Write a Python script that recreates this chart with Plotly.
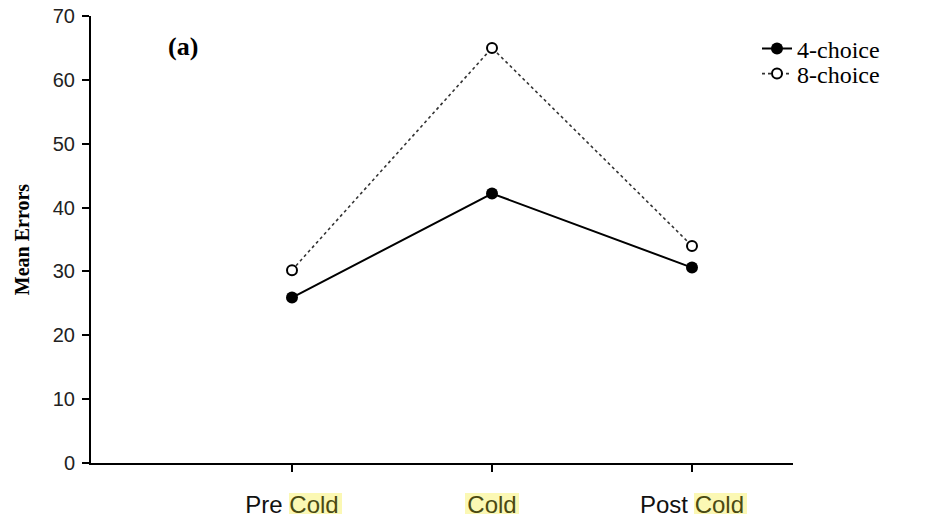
import plotly.graph_objects as go

categories = ["Pre Cold", "Cold", "Post Cold"]
four_choice = [25.9, 42.2, 30.6]
eight_choice = [30.2, 65.0, 34.0]
y_ticks = [0, 10, 20, 30, 40, 50, 60, 70]
series_names = ["4-choice", "8-choice"]
panel_label = "(a)"
y_title = "Mean Errors"

x_idx = list(range(len(categories)))
X_RANGE = [-1.005, 2.505]
HL_TEXT = "#4a4a12"


def tick_label(c):
    out = []
    for p in c.split(" "):
        if p == "Cold":
            out.append(f"<span style='color:{HL_TEXT}'>{p}</span>")
        else:
            out.append(p)
    return " ".join(out)


fig = go.Figure()
fig.add_trace(go.Scatter(
    x=x_idx, y=four_choice, name=series_names[0], mode="lines+markers",
    line=dict(color="black", width=2), legend="legend",
    marker=dict(symbol="circle", size=12, color="black"),
))
fig.add_trace(go.Scatter(
    x=x_idx, y=eight_choice, name=series_names[1], mode="lines+markers",
    line=dict(color="#333333", width=1.6, dash="dot"), legend="legend2",
    marker=dict(symbol="circle", size=10, color="white",
                line=dict(color="black", width=2)),
))

# pale-yellow highlight behind the word "Cold" in each tick label
hl = {0: (-3, 50), 1: (-27, 27), 2: (2, 55)}
for i, (a, b) in hl.items():
    px = (i - X_RANGE[0]) / (X_RANGE[1] - X_RANGE[0])
    fig.add_shape(type="rect", xref="paper", yref="paper", xsizemode="pixel",
                  ysizemode="pixel", xanchor=px, yanchor=0,
                  x0=a, x1=b, y0=-30, y1=-51, layer="below",
                  fillcolor="#fbf8b4", line=dict(width=0))

fig.add_annotation(text=f"<b>{panel_label}</b>", xref="paper", yref="paper",
                   x=(183 - 91) / 702, y=(463 - 46) / 447, showarrow=False,
                   xanchor="center", yanchor="middle",
                   font=dict(family="Liberation Serif", size=26, color="black"))

leg_common = dict(xanchor="left", yanchor="middle", bgcolor="rgba(0,0,0,0)",
                  font=dict(family="Liberation Serif", size=24, color="black"),
                  itemwidth=30)

fig.update_layout(
    width=925, height=518,
    margin=dict(l=91, r=132, t=16, b=55, autoexpand=False),
    paper_bgcolor="white", plot_bgcolor="white",
    showlegend=True,
    legend=dict(x=(757 - 91) / 702, y=(463 - 49) / 447, **leg_common),
    legend2=dict(x=(757 - 91) / 702, y=(463 - 74) / 447, **leg_common),
    xaxis=dict(range=X_RANGE, tickmode="array", tickvals=x_idx,
               ticktext=[tick_label(c) for c in categories], automargin=False,
               showline=True, linecolor="black", linewidth=2,
               ticks="outside", ticklen=7, tickwidth=1.5, tickcolor="black",
               showgrid=False, zeroline=False, ticklabelstandoff=12,
               tickfont=dict(family="Liberation Sans", size=24, color="#111111")),
    yaxis=dict(range=[0, 70], tickmode="array", tickvals=y_ticks, automargin=False,
               showline=True, linecolor="black", linewidth=2,
               ticks="outside", ticklen=7, tickwidth=1.5, tickcolor="black",
               showgrid=False, zeroline=False, ticklabelstandoff=3,
               tickfont=dict(family="Liberation Sans", size=20, color="#222222"),
               title=dict(text=f"<b>{y_title}</b>", standoff=18,
                          font=dict(family="Liberation Serif", size=20,
                                    color="black"))),
)

fig.write_html("out.html")
